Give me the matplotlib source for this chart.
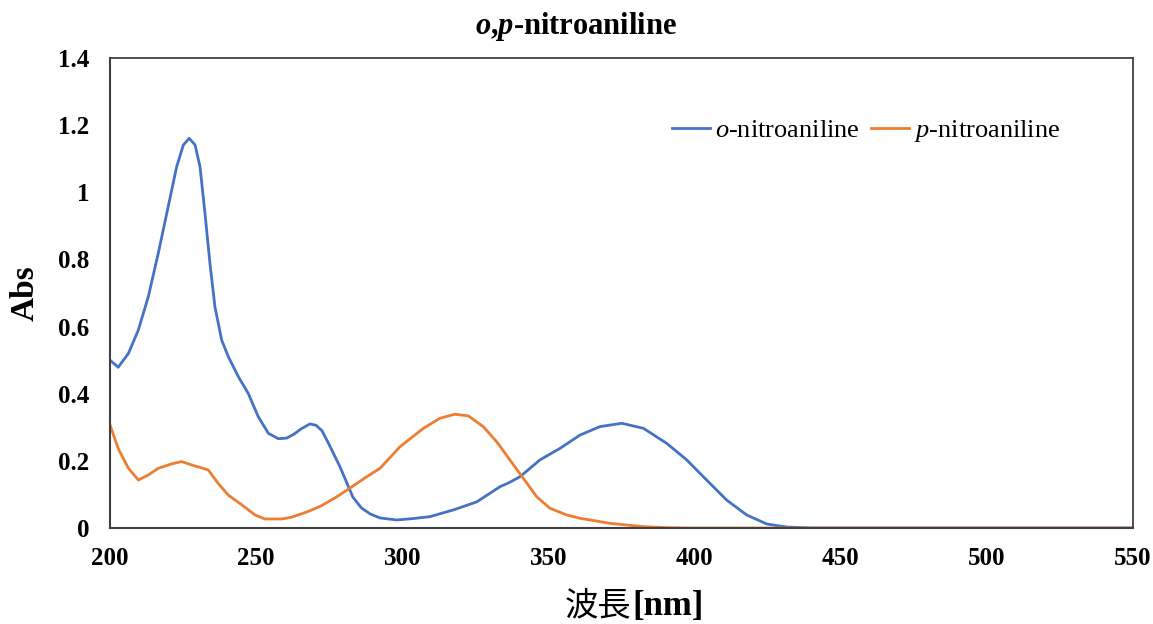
import matplotlib
matplotlib.use("Agg")
import matplotlib.pyplot as plt
import numpy as np

plt.rcParams["font.family"] = ["Liberation Serif", "Noto Sans CJK JP"]
plt.rcParams["mathtext.fontset"] = "custom"
plt.rcParams["mathtext.rm"] = "Liberation Serif"
plt.rcParams["mathtext.it"] = "Liberation Serif:italic"
plt.rcParams["mathtext.bf"] = "Liberation Serif:bold"
plt.rcParams["mathtext.bfit"] = "Liberation Serif:italic:bold"

# o-nitroaniline spectrum
wl_o = [200, 202.8, 206.3, 209.7, 213.1, 216.5, 219.9, 222.8, 225.1, 227.1, 229.1, 230.8,
        232.5, 234.2, 235.9, 238.2, 240.5, 243.9, 247.3, 250.7, 254.2, 257.6, 260.5, 263,
        265.5, 268.4, 270.5, 272.5, 275, 278.7, 283.1, 286, 289, 292.4, 298.1, 303.5,
        309.5, 317.5, 325.5, 333.4, 336.5, 340.3, 347.1, 353.9, 360.8, 367.6, 375.1, 382.5,
        390.5, 397.3, 404.1, 411, 417.8, 424.7, 431.5, 440, 450, 500, 550]
abs_o = [0.500, 0.479, 0.520, 0.590, 0.689, 0.818, 0.957, 1.076, 1.141, 1.161, 1.141, 1.076,
         0.937, 0.788, 0.659, 0.560, 0.510, 0.451, 0.401, 0.332, 0.282, 0.266, 0.268, 0.280,
         0.296, 0.310, 0.306, 0.290, 0.248, 0.182, 0.092, 0.060, 0.042, 0.030, 0.024, 0.028,
         0.034, 0.054, 0.078, 0.123, 0.135, 0.153, 0.203, 0.237, 0.277, 0.302, 0.312, 0.297,
         0.252, 0.203, 0.143, 0.083, 0.039, 0.012, 0.003, 0.0, 0.0, 0.0, 0.0]

# p-nitroaniline spectrum
wl_p = [200, 202.8, 206.3, 209.7, 213.1, 216.5, 221.1, 224.5, 227.9, 231, 233.6, 237.0,
        240.5, 245.1, 249.6, 253.0, 258.7, 262, 267.4, 272, 277, 282.1, 287, 292.4, 299.2,
        307.2, 312.9, 318.0, 322.6, 327.7, 332.3, 336.8, 341.4, 346.0, 350.5, 356.2, 360.8,
        371.1, 382.5, 391, 400, 420, 450, 500, 550]
abs_p = [0.307, 0.237, 0.178, 0.143, 0.158, 0.178, 0.191, 0.198, 0.188, 0.180, 0.173, 0.133,
         0.098, 0.069, 0.039, 0.027, 0.027, 0.032, 0.048, 0.065, 0.090, 0.119, 0.148, 0.178,
         0.242, 0.297, 0.327, 0.339, 0.334, 0.302, 0.257, 0.203, 0.148, 0.093, 0.059, 0.039,
         0.029, 0.014, 0.004, 0.001, 0.0, 0.0, 0.0, 0.0, 0.0]

fig = plt.figure(figsize=(11.53, 6.24), dpi=100)
ax = fig.add_axes([0.0954, 0.1538, 0.8873, 0.7532])

ax.plot(wl_o, abs_o, color="#4472C4", lw=2.0, label=r"$\it{o}$-nitroaniline",
        solid_joinstyle="round")
ax.plot(wl_p, abs_p, color="#ED7D31", lw=2.0, label=r"$\it{p}$-nitroaniline",
        solid_joinstyle="round")

ax.set_xlim(200, 550)
ax.set_ylim(0, 1.4)
ax.set_xticks(np.arange(200, 551, 50))
ax.set_yticks([0, 0.2, 0.4, 0.6, 0.8, 1, 1.2, 1.4])
ax.set_yticklabels(["0", "0.2", "0.4", "0.6", "0.8", "1", "1.2", "1.4"])
ax.tick_params(length=0, labelsize=18)
ax.tick_params(axis="y", pad=15)
ax.tick_params(axis="x", pad=14)
for lab in ax.get_xticklabels() + ax.get_yticklabels():
    lab.set_fontweight("bold")

for s in ["left", "bottom"]:
    ax.spines[s].set_color("#404040")
    ax.spines[s].set_linewidth(1.5)
for s in ["top", "right"]:
    ax.spines[s].set_color("#404040")
    ax.spines[s].set_linewidth(1.3)

ax.set_ylabel("Abs", fontsize=24, fontweight="bold", labelpad=12)
ax.annotate("波長", xy=(0.510, -0.166), xycoords="axes fraction", ha="right", va="center",
            fontsize=24, family=["Noto Sans CJK JP"])
ax.annotate("[nm]", xy=(0.511, -0.166), xycoords="axes fraction", ha="left", va="center",
            fontsize=25, fontweight="bold")

fig.text(0.5, 0.958, r"$\mathbfit{o}$,$\mathbfit{p}$-nitroaniline", ha="center", va="center",
         fontsize=22, fontweight="bold")

ax.legend(loc="center", bbox_to_anchor=(0.739, 0.845), ncol=2, frameon=False, fontsize=19,
          handlelength=1.45, handletextpad=0.2, columnspacing=0.4)

fig.savefig("out.png", dpi=100)
